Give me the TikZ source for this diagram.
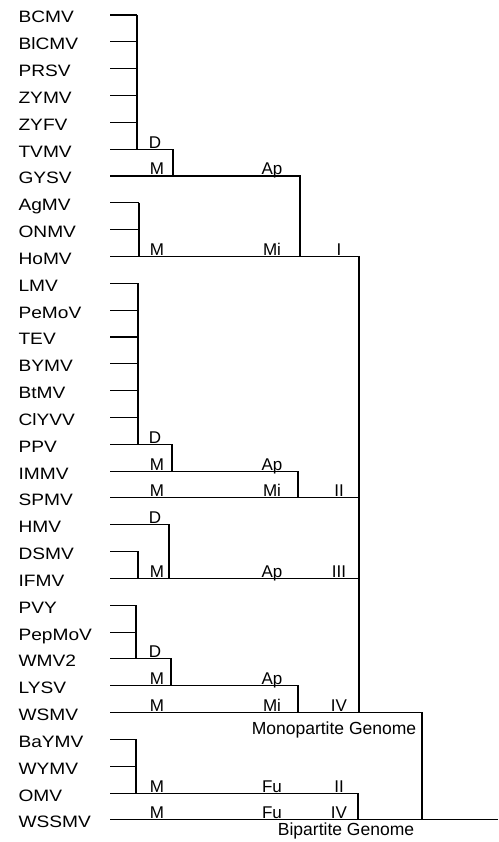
\documentclass[tikz,border=0pt]{standalone}
\usepackage{fontspec}
\setmainfont{Liberation Sans}
\newfontfamily\leaffont{Liberation Sans}[FakeStretch=1.16]
\usepackage{tikz}

\begin{document}
\begin{tikzpicture}[x=1pt, y=-1pt, line width=1.1pt,
  leaf/.style={anchor=base west, inner sep=0pt, font=\leaffont\fontsize{16.5}{18}\selectfont},
  brlab/.style={anchor=base, inner sep=0pt, font=\fontsize{17}{19}\selectfont},
  genlab/.style={anchor=base, inner sep=0pt, font=\fontsize{17.5}{19}\selectfont}]

\useasboundingbox (0,0) rectangle (498,842);

% Virus names and start of their branches
\foreach \name [count=\i] in {BCMV,BlCMV,PRSV,ZYMV,ZYFV,TVMV,GYSV,AgMV,ONMV,HoMV,
    LMV,PeMoV,TEV,BYMV,BtMV,ClYVV,PPV,IMMV,SPMV,HMV,DSMV,IFMV,PVY,PepMoV,WMV2,
    LYSV,WSMV,BaYMV,WYMV,OMV,WSSMV} {
  \pgfmathsetmacro{\y}{15 + (\i-1)*26.83}
  \node[leaf] (\name) at (18,\y+8) {\name};
  \coordinate (\name-s) at (110,\y);
}

% Joints of the tree
\coordinate (g1) at (137,0 |- TVMV-s);
\coordinate (d1) at (173,0 |- GYSV-s);
\coordinate (a1) at (300,0 |- HoMV-s);
\coordinate (g2) at (139,0 |- HoMV-s);
\coordinate (monoj) at (359,0 |- WSMV-s);
\coordinate (g3) at (138,0 |- PPV-s);
\coordinate (d3) at (172,0 |- IMMV-s);
\coordinate (a3) at (298,0 |- SPMV-s);
\coordinate (d4) at (169,0 |- IFMV-s);
\coordinate (g4) at (138,0 |- IFMV-s);
\coordinate (g5) at (136,0 |- WMV2-s);
\coordinate (d5) at (171,0 |- LYSV-s);
\coordinate (a5) at (298,0 |- WSMV-s);
\coordinate (root) at (422,0 |- WSSMV-s);
\coordinate (g6) at (136,0 |- OMV-s);
\coordinate (f6) at (358,0 |- WSSMV-s);
\coordinate (tip) at (498,0 |- WSSMV-s);

% Group I
\foreach \n in {BCMV,BlCMV,PRSV,ZYMV,ZYFV} \draw (\n-s) -- (\n-s -| g1);
\draw (BCMV-s -| g1) -- (g1);
\draw (TVMV-s) -| (d1);
\draw (GYSV-s) -| (a1);
\foreach \n in {AgMV,ONMV} \draw (\n-s) -- (\n-s -| g2);
\draw (AgMV-s -| g2) -- (g2);
\draw (HoMV-s) -| (monoj);

% Group II
\foreach \n in {LMV,PeMoV,TEV,BYMV,BtMV,ClYVV} \draw (\n-s) -- (\n-s -| g3);
\draw (LMV-s -| g3) -- (g3);
\draw (PPV-s) -| (d3);
\draw (IMMV-s) -| (a3);
\draw (SPMV-s) -- (SPMV-s -| monoj);

% Group III
\draw (HMV-s) -| (d4);
\draw (DSMV-s) -| (g4);
\draw (IFMV-s) -- (IFMV-s -| monoj);

% Group IV
\foreach \n in {PVY,PepMoV} \draw (\n-s) -- (\n-s -| g5);
\draw (PVY-s -| g5) -- (g5);
\draw (WMV2-s) -| (d5);
\draw (LYSV-s) -| (a5);
\draw (WSMV-s) -| (root);

% Bipartite group
\foreach \n in {BaYMV,WYMV} \draw (\n-s) -- (\n-s -| g6);
\draw (BaYMV-s -| g6) -- (g6);
\draw (OMV-s) -| (f6);
\draw (WSSMV-s) -- (tip);

% Labels on the branches
\foreach \r in {TVMV,PPV,HMV,WMV2}
  \node[brlab] (\r-D) at ([shift={(45,-1)}]\r-s) {D};
\foreach \r in {GYSV,HoMV,IMMV,SPMV,IFMV,LYSV,WSMV,OMV,WSSMV}
  \node[brlab] (\r-M) at ([shift={(47,-1)}]\r-s) {M};
\foreach \r/\t in {GYSV/Ap,HoMV/Mi,IMMV/Ap,SPMV/Mi,IFMV/Ap,LYSV/Ap,WSMV/Mi,OMV/Fu,WSSMV/Fu}
  \node[brlab] (\r-v) at ([shift={(162,-1)}]\r-s) {\t};
\foreach \r/\t in {HoMV/I,SPMV/II,IFMV/III,WSMV/IV,OMV/II,WSSMV/IV}
  \node[brlab] (\r-g) at ([shift={(229,-1)}]\r-s) {\t};

% Genome types
\node[genlab] (mono) at ([shift={(224,22)}]WSMV-s) {Monopartite Genome};
\node[genlab] (bi) at ([shift={(236,16)}]WSSMV-s) {Bipartite Genome};

\end{tikzpicture}
\end{document}
